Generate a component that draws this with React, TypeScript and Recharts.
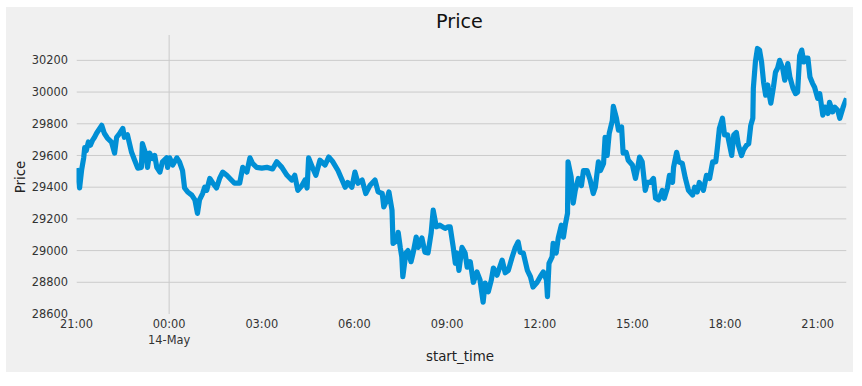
import React from 'react';
import { LineChart, Line, XAxis, YAxis, ReferenceLine } from 'recharts';

// minutes since 21:00 on 13-May
const minutes: number[] = [
  0, 6, 10, 14, 16, 19, 23, 27, 31, 35, 39, 49, 54, 60, 68, 74, 78, 84, 90, 93,
  99, 107, 113, 119, 126, 128, 134, 138, 142, 148, 152, 156, 162, 167, 175, 177, 181, 187, 195, 200,
  206, 210, 216, 224, 230, 235, 239, 245, 249, 253, 259, 265, 272, 278, 284, 292, 298, 307, 317, 323,
  331, 337, 342, 350, 360, 370, 376, 381, 389, 399, 409, 418, 424, 430, 438, 444, 448, 451, 459, 465,
  473, 483, 490, 498, 508, 516, 522, 527, 535, 541, 547, 555, 562, 570, 580, 586, 594, 597, 603, 607,
  613, 615, 623, 625, 629, 632, 634, 640, 644, 650, 654, 660, 664, 671, 677, 683, 689, 693, 699, 706,
  716, 722, 726, 732, 736, 739, 743, 749, 755, 759, 765, 771, 778, 784, 790, 794, 800, 806, 810, 817,
  827, 833, 839, 846, 852, 858, 862, 868, 876, 882, 887, 895, 901, 907, 913, 915, 918, 924, 926, 932,
  936, 942, 946, 950, 954, 955, 961, 965, 969, 975, 981, 985, 992, 998, 1004, 1008, 1014, 1018, 1024, 1027,
  1031, 1035, 1041, 1043, 1049, 1053, 1059, 1062, 1068, 1072, 1080, 1086, 1090, 1094, 1099, 1105, 1109, 1115, 1121, 1125,
  1131, 1138, 1142, 1148, 1152, 1158, 1160, 1166, 1170, 1177, 1183, 1189, 1197, 1201, 1206, 1210, 1218, 1224, 1230, 1236,
  1242, 1245, 1249, 1255, 1259, 1265, 1269, 1273, 1277, 1282, 1286, 1292, 1296, 1302, 1306, 1310, 1314, 1315, 1319, 1323,
  1327, 1331, 1335, 1339, 1343, 1345, 1349, 1354, 1358, 1362, 1366, 1372, 1376, 1382, 1386, 1392, 1397, 1401, 1405, 1409,
  1413, 1417, 1421, 1425, 1430, 1434, 1440, 1444, 1450, 1454, 1460, 1463, 1469, 1473, 1479, 1483, 1489, 1493, 1496,
];

const prices: number[] = [
  29520, 29395, 29510, 29585, 29650, 29630, 29685, 29665, 29695, 29715, 29740, 29790, 29740, 29710, 29685, 29615, 29715, 29740, 29770, 29715,
  29730, 29620, 29570, 29520, 29525, 29675, 29615, 29525, 29615, 29580, 29600, 29525, 29495, 29560, 29585, 29525, 29585, 29540, 29585, 29560,
  29505, 29395, 29370, 29350, 29320, 29235, 29320, 29360, 29400, 29380, 29455, 29425, 29395, 29455, 29495, 29475, 29455, 29425, 29425, 29525,
  29495, 29585, 29550, 29525, 29520, 29525, 29520, 29515, 29560, 29525, 29475, 29445, 29475, 29380, 29410, 29445, 29395, 29585, 29520, 29475,
  29570, 29540, 29590, 29560, 29505, 29445, 29400, 29430, 29400, 29495, 29425, 29445, 29360, 29410, 29445, 29370, 29360, 29275, 29320, 29370,
  29255, 29045, 29065, 29115, 29020, 28960, 28835, 28985, 29000, 28930, 28985, 29085, 29020, 29080, 28990, 28985, 29110, 29255, 29150, 29160,
  29140, 29150, 29150, 29020, 28920, 28985, 28875, 29020, 28985, 28895, 28930, 28800, 28865, 28815, 28675, 28795, 28740, 28815, 28890, 28845,
  28940, 28860, 28875, 28955, 29015, 29055, 28990, 28985, 28875, 28835, 28770, 28800, 28835, 28865, 28815, 28710, 28920, 28960, 29045, 28985,
  29080, 29160, 29085, 29170, 29235, 29560, 29465, 29300, 29380, 29455, 29410, 29505, 29505, 29445, 29360, 29400, 29560, 29505, 29550, 29715,
  29600, 29740, 29820, 29910, 29835, 29760, 29780, 29615, 29620, 29570, 29540, 29455, 29520, 29590, 29560, 29380, 29430, 29430, 29455, 29330,
  29320, 29380, 29330, 29395, 29475, 29430, 29525, 29620, 29560, 29550, 29455, 29380, 29350, 29400, 29370, 29430, 29380, 29475, 29455, 29560,
  29560, 29645, 29770, 29835, 29730, 29730, 29665, 29600, 29730, 29745, 29665, 29600, 29635, 29665, 29675, 29790, 29835, 30025, 30190, 30275,
  30265, 30190, 30060, 29980, 30045, 30000, 29930, 30030, 30125, 30150, 30200, 30150, 30075, 30180, 30095, 30025, 29990, 30000, 30230, 30265,
  30190, 30215, 30215, 30095, 30055, 30030, 29960, 29990, 29855, 29905, 29865, 29935, 29875, 29905, 29885, 29835, 29900, 29935, 29960,
];

const xTicks: number[] = [0, 180, 360, 540, 720, 900, 1080, 1260, 1440];
const xTickLabels: string[] = ['21:00', '00:00', '03:00', '06:00', '09:00', '12:00', '15:00', '18:00', '21:00'];
const xTickSubLabels: string[] = ['', '14-May', '', '', '', '', '', '', ''];
const yTicks: number[] = [28600, 28800, 29000, 29200, 29400, 29600, 29800, 30000, 30200];

const xMax = 1496;
const yDomain: [number, number] = [28600, 30360];

const data = minutes.map((m, i) => ({ t: m, price: prices[i] }));

const FONT = "'DejaVu Sans', sans-serif";

const XTick = (props: any) => {
  const { x, y, payload } = props;
  const idx = xTicks.indexOf(payload.value);
  return (
    <g>
      <text x={x} y={y + 14.4} textAnchor="middle" fontSize={11.4} fill="#333" fontFamily={FONT}>
        {xTickLabels[idx]}
      </text>
      {xTickSubLabels[idx] ? (
        <text x={x} y={y + 30} textAnchor="middle" fontSize={11.4} fill="#333" fontFamily={FONT}>
          {xTickSubLabels[idx]}
        </text>
      ) : null}
    </g>
  );
};

export default function App() {
  return (
    <div
      style={{
        position: 'absolute',
        left: 6,
        top: 7,
        width: 847,
        height: 365,
        background: '#f0f0f0',
        fontFamily: FONT,
      }}
    >
      <div
        style={{
          position: 'absolute',
          left: 0,
          width: 907,
          top: 3,
          textAlign: 'center',
          fontSize: 19.2,
          color: '#111',
          lineHeight: '24px',
        }}
      >
        Price
      </div>
      <div
        style={{
          position: 'absolute',
          left: 14.5 - 30,
          top: 170 - 9,
          width: 60,
          height: 18,
          lineHeight: '18px',
          textAlign: 'center',
          fontSize: 13.4,
          color: '#222',
          transform: 'rotate(-90deg)',
        }}
      >
        Price
      </div>
      <div
        style={{
          position: 'absolute',
          left: 454 - 60,
          top: 350 - 9,
          width: 120,
          height: 18,
          lineHeight: '18px',
          textAlign: 'center',
          fontSize: 13.4,
          color: '#222',
        }}
      >
        start_time
      </div>
      <LineChart
        width={847}
        height={365}
        data={data}
        margin={{ top: 28, right: 6.5, left: 10.5, bottom: 8 }}
        style={{ position: 'absolute', left: 0, top: 0 }}
      >
        {yTicks.slice(1).map((v) => (
          <ReferenceLine key={v} y={v} stroke="#cbcbcb" strokeWidth={1} ifOverflow="hidden" />
        ))}
        <ReferenceLine x={180} stroke="#cbcbcb" strokeWidth={1} />
        <XAxis
          dataKey="t"
          type="number"
          domain={[0, xMax]}
          ticks={xTicks}
          allowDataOverflow
          axisLine={false}
          tickLine={false}
          tickSize={0}
          tickMargin={0}
          height={50}
          interval={0}
          tick={<XTick />}
        />
        <YAxis
          type="number"
          domain={yDomain}
          ticks={yTicks}
          allowDataOverflow
          axisLine={false}
          tickLine={false}
          tickSize={0}
          tickMargin={8.5}
          width={60}
          interval={0}
          tick={{ fontSize: 11.4, fill: '#333', fontFamily: FONT }}
        />
        <Line
          type="linear"
          dataKey="price"
          stroke="#008fd5"
          strokeWidth={5.2}
          dot={false}
          activeDot={false}
          isAnimationActive={false}
          strokeLinejoin="round"
          strokeLinecap="butt"
        />
      </LineChart>
    </div>
  );
}
